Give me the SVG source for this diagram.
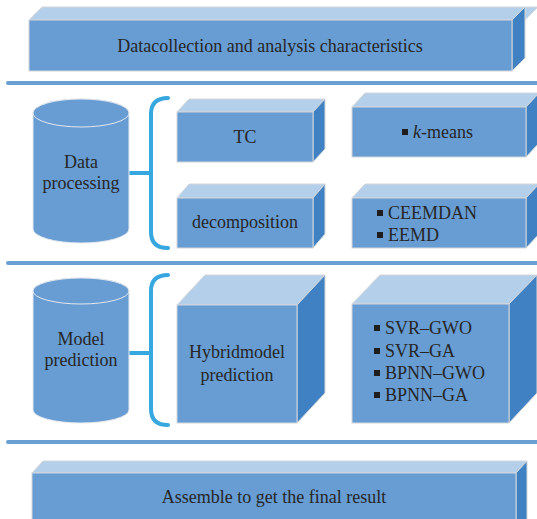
<svg xmlns="http://www.w3.org/2000/svg" width="537" height="519" viewBox="0 0 537 519">
<style>
.front{fill:#679dd3;stroke:#d3d6da;stroke-width:1}
.top{fill:#b4cfea;stroke:#d3d6da;stroke-width:1}
.side{fill:#3f81c2;stroke:#d3d6da;stroke-width:1}
.cyl{fill:#679dd3;stroke:#e4e8ee;stroke-width:1}
.t{font-family:"Liberation Serif","Times New Roman",serif;font-size:18px;fill:#262626}
.c{text-anchor:middle}
.sep{stroke:#6a9fd4;stroke-width:4;stroke-linecap:round}
.br{fill:none;stroke:#37a7e0;stroke-width:4;stroke-linecap:round;stroke-linejoin:round}
.bul{fill:#1e1e1e}
</style>
<rect width="537" height="519" fill="#ffffff"/>
<g id="separators">
<line class="sep" x1="8" y1="83" x2="537" y2="83"/>
<line class="sep" x1="8" y1="263" x2="537" y2="263"/>
<line class="sep" x1="8" y1="442" x2="537" y2="442"/>
</g>
<g id="connectors">
<path class="br" d="M168,98 Q151,98 151,114 L151,232 Q151,248 168,248"/>
<line class="br" x1="129" y1="173" x2="151" y2="173"/>
<path class="br" d="M168,275 Q151,275 151,291 L151,409 Q151,425 168,425"/>
<line class="br" x1="129" y1="353" x2="151" y2="353"/>
</g>
<g id="node-collection">
<polygon class="top" points="29,20 42,7 538,7 525,20"/>
<polygon class="side" points="512,20 525,7 525,58 512,71"/>
<rect class="front" x="29" y="20" width="483" height="51"/>
<text class="t c" x="270" y="52">Datacollection and analysis characteristics</text>
</g>
<g id="node-data-processing">
<path class="cyl" d="M33,113 A48,14 0 0 1 129,113 L129,229 A48,14 0 0 1 33,229 Z"/>
<ellipse class="cyl" cx="81" cy="113" rx="48" ry="14"/>
<text class="t c" x="81" y="168">Data</text>
<text class="t c" x="81" y="189">processing</text>
</g>
<g id="node-tc">
<polygon class="top" points="177,112 189,99 325,99 313,112"/>
<polygon class="side" points="313,112 325,99 325,149 313,162"/>
<rect class="front" x="177" y="112" width="136" height="50"/>
<text class="t c" x="245" y="143">TC</text>
</g>
<g id="node-kmeans">
<polygon class="top" points="352,107 365,93 539,93 526,107"/>
<polygon class="side" points="526,107 539,93 539,143 526,157"/>
<rect class="front" x="352" y="107" width="174" height="50"/>
<rect class="bul" x="402" y="129" width="6" height="6"/>
<text class="t" x="413" y="138"><tspan font-style="italic">k</tspan>-means</text>
</g>
<g id="node-decomposition">
<polygon class="top" points="177,198 189,184 325,184 313,198"/>
<polygon class="side" points="313,198 325,184 325,234 313,248"/>
<rect class="front" x="177" y="198" width="136" height="50"/>
<text class="t c" x="245" y="228">decomposition</text>
</g>
<g id="node-ceemdan">
<polygon class="top" points="352,198 365,184 539,184 526,198"/>
<polygon class="side" points="526,198 539,184 539,234 526,248"/>
<rect class="front" x="352" y="198" width="174" height="50"/>
<rect class="bul" x="377" y="210" width="6" height="6"/>
<text class="t" x="388" y="219">CEEMDAN</text>
<rect class="bul" x="377" y="232" width="6" height="6"/>
<text class="t" x="388" y="241">EEMD</text>
</g>
<g id="node-model-prediction">
<path class="cyl" d="M33,291 A48,13 0 0 1 129,291 L129,410 A48,13 0 0 1 33,410 Z"/>
<ellipse class="cyl" cx="81" cy="291" rx="48" ry="13"/>
<text class="t c" x="81" y="345">Model</text>
<text class="t c" x="81" y="366">prediction</text>
</g>
<g id="node-hybrid">
<polygon class="top" points="177,305 205,275 325,275 297,305"/>
<polygon class="side" points="297,305 325,275 325,393 297,423"/>
<rect class="front" x="177" y="305" width="120" height="118"/>
<text class="t c" x="237" y="358">Hybridmodel</text>
<text class="t c" x="237" y="381">prediction</text>
</g>
<g id="node-models">
<polygon class="top" points="352,304 380,275 537,275 509,304"/>
<polygon class="side" points="509,304 537,275 537,393 509,423"/>
<rect class="front" x="352" y="304" width="157" height="119"/>
<rect class="bul" x="374" y="325" width="6" height="6"/>
<text class="t" x="385" y="334">SVR–GWO</text>
<rect class="bul" x="374" y="348" width="6" height="6"/>
<text class="t" x="385" y="357">SVR–GA</text>
<rect class="bul" x="374" y="370" width="6" height="6"/>
<text class="t" x="385" y="379">BPNN–GWO</text>
<rect class="bul" x="374" y="392" width="6" height="6"/>
<text class="t" x="385" y="401">BPNN–GA</text>
</g>
<g id="node-assemble">
<polygon class="top" points="32,473 43,461 527,461 516,473"/>
<polygon class="side" points="516,473 527,461 527,530 516,540"/>
<rect class="front" x="32" y="473" width="484" height="60"/>
<text class="t c" x="274" y="503">Assemble to get the final result</text>
</g>
</svg>
